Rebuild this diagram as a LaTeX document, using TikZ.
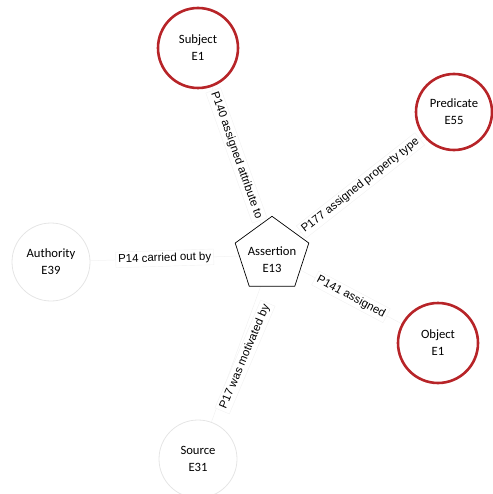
\documentclass[tikz,border=0pt]{standalone}
\usepackage{fontspec}
\setmainfont{Carlito}
\newfontfamily\edgefont{Liberation Sans}
\usetikzlibrary{shapes.geometric,backgrounds}
\definecolor{entred}{RGB}{183,36,40}
\begin{document}
\begin{tikzpicture}[x=1bp,y=-1bp,
  ent/.style={circle,minimum size=#1,inner sep=0pt,align=center,font=\fontsize{12.7}{17}\selectfont},
  redent/.style={ent=#1,draw=entred,line width=2.6bp},
  greyent/.style={ent=#1,draw=black!10,line width=0.8bp},
  assert/.style={regular polygon,regular polygon sides=5,minimum size=77.4bp,inner sep=0pt,draw=black,line width=0.7bp},
  asserttext/.style={align=center,inner sep=0pt,font=\fontsize{12.7}{17}\selectfont},
  rel/.style={draw=black!5,line width=0.5bp},
  labelbox/.style={fill=white,draw=black!5,line width=0.4bp,inner sep=2.5bp,font=\edgefont\fontsize{11.5}{13}\selectfont},
  rellabel/.style={midway,sloped,labelbox}
]
\useasboundingbox (0,0) rectangle (493,494);
\node[redent=80bp] (subj) at (198,48) {Subject\\E1};
\node[redent=76bp] (pred) at (454,112) {Predicate\\E55};
\node[greyent=78bp] (auth) at (51,262) {Authority\\E39};
\node[assert] (asrt) at (272,255) {};
\node[asserttext] (asrtt) at (272,260) {Assertion\\E13};
\node[redent=80bp] (obj) at (438,343) {Object\\E1};
\node[greyent=78bp] (src) at (198,459) {Source\\E31};
\begin{scope}[on background layer]
\path[rel] (subj) -- node[rellabel] (l140) {P140 assigned attribute to} (asrt);
\path[rel] (asrt) -- node[rellabel] (l177) {P177 assigned property type} (pred);
\path[rel] (auth) -- node[rellabel] (l14) {P14 carried out by} (asrt);
\path[rel] (asrt) -- node[rellabel] (l141) {P141 assigned} (obj);
\path[rel] (asrt) -- (src);
\end{scope}
\node[labelbox,rotate=67] (l17) at (245,357) {P17 was motivated by};
\end{tikzpicture}
\end{document}
